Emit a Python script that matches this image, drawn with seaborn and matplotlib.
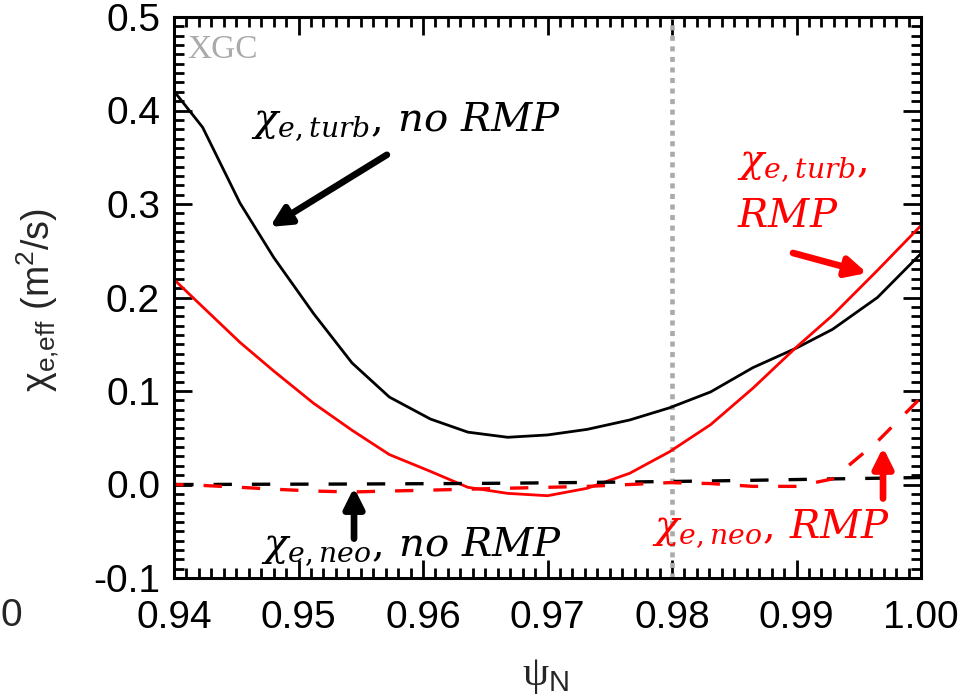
import numpy as np
import pandas as pd
import matplotlib
matplotlib.use("Agg")
import matplotlib.pyplot as plt
import seaborn as sns
from matplotlib.ticker import MultipleLocator, FormatStrFormatter

# ---- data ----
psi = [0.9401, 0.9423, 0.9453, 0.9480, 0.9512, 0.9543, 0.9573, 0.9606, 0.9636, 0.9668,
       0.9700, 0.9732, 0.9766, 0.9798, 0.9831, 0.9865, 0.9900, 0.9929, 0.9965, 1.0000]
chi_turb_norm = [0.419, 0.382, 0.301, 0.243, 0.183, 0.130, 0.0935, 0.070, 0.056, 0.0505,
                 0.053, 0.059, 0.069, 0.082, 0.099, 0.125, 0.146, 0.166, 0.200, 0.247]
chi_turb_rmp = [0.218, 0.190, 0.152, 0.1215, 0.087, 0.058, 0.032, 0.014, -0.003, -0.0095,
                -0.012, -0.004, 0.012, 0.035, 0.064, 0.103, 0.147, 0.181, 0.229, 0.277]
chi_neo_norm = [0.0, 0.0, 0.0002, 0.0003, 0.0004, 0.0005, 0.0007, 0.0009, 0.0011, 0.0014,
                0.0018, 0.0022, 0.0027, 0.0032, 0.0038, 0.0045, 0.0053, 0.0060, 0.0067, 0.0075]
chi_neo_rmp = [0.0, -0.001, -0.003, -0.005, -0.007, -0.008, -0.007, -0.006, -0.005, -0.004,
               -0.003, -0.002, 0.0, 0.002, 0.001, -0.002, -0.002, 0.006, 0.046, 0.093]

x_ticks = [0.94, 0.95, 0.96, 0.97, 0.98, 0.99, 1.00]
y_ticks = [-0.1, 0.0, 0.1, 0.2, 0.3, 0.4, 0.5]
sep_psi = 0.98

df = pd.DataFrame({"psi": psi, "turb_norm": chi_turb_norm, "turb_rmp": chi_turb_rmp,
                   "neo_norm": chi_neo_norm, "neo_rmp": chi_neo_rmp})

sns.set_theme(style="ticks")
plt.rcParams["font.family"] = ["Liberation Sans", "DejaVu Sans"]
plt.rcParams["axes.unicode_minus"] = False
plt.rcParams["mathtext.fontset"] = "custom"
plt.rcParams["mathtext.rm"] = "Liberation Sans"
plt.rcParams["mathtext.it"] = "Liberation Sans:italic"

fig = plt.figure(figsize=(9.67, 6.95), dpi=100)
ax = fig.add_axes([174/967, 1-578/695, (921-174)/967, (578-17)/695])

sns.lineplot(data=df, x="psi", y="turb_norm", ax=ax, color="black", lw=2.0)
sns.lineplot(data=df, x="psi", y="turb_rmp", ax=ax, color="#ff0000", lw=2.0)
sns.lineplot(data=df, x="psi", y="neo_norm", ax=ax, color="black", lw=2.4, linestyle=(0, (5.5, 6)))
sns.lineplot(data=df, x="psi", y="neo_rmp", ax=ax, color="#ff0000", lw=2.4, linestyle=(3, (5.5, 6)))

ax.axvline(sep_psi, color="#aaaaaa", lw=3.3, linestyle=(0, (1.1, 1.2)), zorder=1)

ax.set_xlim(0.94, 1.0)
ax.set_ylim(-0.1, 0.5)
ax.set_xticks(x_ticks)
ax.set_yticks(y_ticks)
ax.xaxis.set_major_formatter(FormatStrFormatter("%.2f"))
ax.yaxis.set_major_formatter(FormatStrFormatter("%.1f"))
ax.xaxis.set_minor_locator(MultipleLocator(0.001))
ax.yaxis.set_minor_locator(MultipleLocator(0.01))
ax.tick_params(which="both", direction="in", top=True, right=True, width=2, colors="black")
ax.tick_params(which="major", length=13)
ax.tick_params(which="minor", length=7)
ax.tick_params(axis="x", which="major", labelsize=28, pad=16)
ax.tick_params(axis="y", which="major", labelsize=28, pad=10)
for s in ax.spines.values():
    s.set_linewidth(2.2)
    s.set_color("black")

ax.set_xlabel("ψ$_\\mathrm{N}$", fontsize=30, family=["Liberation Serif"], va="top")
ax.xaxis.set_label_coords(0.498, -0.14)
ax.set_ylabel("χ$_\\mathrm{e{,}eff}$ (m$^\\mathrm{2}$/s)", fontsize=27)
ax.yaxis.set_label_coords(-0.15, 0.495)

# annotations
tkw = dict(math_fontfamily="dejavuserif", fontsize=29)
ax.text(0.95863, 0.388, r"$\chi_{e,turb},\, no\ RMP$", color="black", ha="center", va="center", **tkw)
ax.text(0.98522, 0.342, r"$\chi_{e,turb},$", color="#ff0000", ha="left", va="center", **tkw)
ax.text(0.98522, 0.287, r"$RMP$", color="#ff0000", ha="left", va="center", **tkw)
ax.text(0.95912, -0.066, r"$\chi_{e,neo},\, no\ RMP$", color="black", ha="center", va="center", **tkw)
ax.text(0.98795, -0.047, r"$\chi_{e,neo},\, RMP$", color="#ff0000", ha="center", va="center", **tkw)
ax.text(0.9411, 0.465, "XGC", color="#aaaaaa", fontsize=24, family=["Liberation Serif"],
        ha="left", va="center")

akw = dict(arrowstyle="-|>,head_length=1.0,head_width=0.5", lw=4.8, shrinkA=0, shrinkB=0)
ax.annotate("", xy=(0.94771, 0.2755), xytext=(0.9571, 0.3526),
            arrowprops=dict(color="black", **akw))
ax.annotate("", xy=(0.99566, 0.2262), xytext=(0.98972, 0.2476),
            arrowprops=dict(color="#ff0000", **akw))
ax.annotate("", xy=(0.95446, -0.0032), xytext=(0.95446, -0.0579),
            arrowprops=dict(color="black", **akw))
ax.annotate("", xy=(0.99695, 0.0397), xytext=(0.99695, -0.015),
            arrowprops=dict(color="#ff0000", **akw))

fig.text(0.0, 1-616/695, "0", fontsize=28, ha="left", va="center")

fig.savefig("out.png", dpi=100)
